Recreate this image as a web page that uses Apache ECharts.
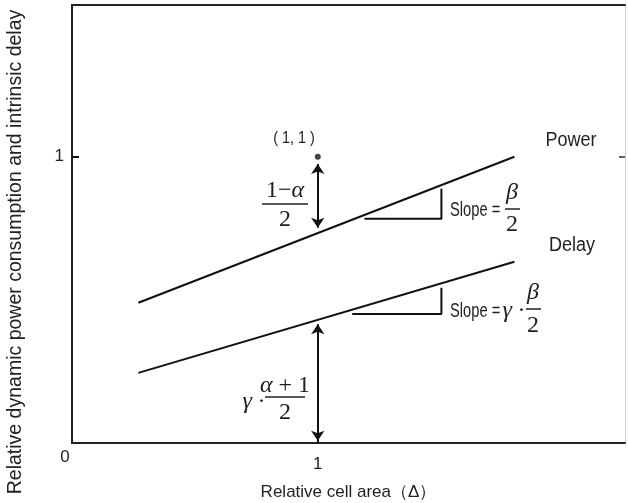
<!DOCTYPE html>
<html><head><meta charset="utf-8">
<script src="https://cdn.jsdelivr.net/npm/echarts@6/dist/echarts.min.js"></script>
<style>html,body{margin:0;padding:0;background:#fff}#c{width:628px;height:503px}</style>
</head><body><div id="c"></div>
<script>
// ---- data ----
const seriesNames = ['Power', 'Delay'];
const powerLine = [[0.27, 0.49], [1.8, 1.0]];
const delayLine = [[0.27, 0.245], [1.8, 0.633]];
const refPoint = [[1, 1]];
const powerGap = [[1, 0.975], [1, 0.752]];
const delayHeight = [[1, 0.415], [1, 0.008]];
const powerSlope = [[1.19, 0.783], [1.503, 0.783], [1.503, 0.888]];
const delaySlope = [[1.14, 0.451], [1.503, 0.451], [1.503, 0.542]];
const xTickLabels = {0: '{z|0}', 1: '1'};
const yTickLabels = {1: '1'};
const majorTicks = [1];
const xName = 'Relative cell area（Δ）';
const yName = 'Relative dynamic power consumption and intrinsic delay';

const chart = echarts.init(document.getElementById('c'), null, {renderer: 'canvas'});
const SANS = 'Liberation Sans, Arial, sans-serif';
const SERIF = 'Liberation Serif, Times New Roman, serif';
const INK = '#111';

const GRID = {left: 72, right: 3, top: 5, bottom: 60};
const plotH = 503 - GRID.top - GRID.bottom;

const baseX = {type: 'value', min: 0, max: 2.25, interval: 0.25};
const baseY = {type: 'value', min: 0, max: 1.53, interval: 0.25};

const option = {
  backgroundColor: '#fff',
  animation: false,
  grid: Object.assign({containLabel: false, outerBoundsMode: 'none'}, GRID),
  xAxis: [
    Object.assign({}, baseX, {
      position: 'bottom',
      axisLine: {onZero: false, lineStyle: {color: '#222', width: 2}},
      axisTick: {inside: true, length: 7, customValues: majorTicks, lineStyle: {color: '#111', width: 2}},
      splitLine: {show: true, lineStyle: {color: '#999', width: 1, type: [0, plotH - 4, 4, 2000]}},
      axisLabel: {
        color: '#222', fontFamily: SANS, fontSize: 17, margin: 13,
        formatter: v => xTickLabels[v] !== undefined ? xTickLabels[v] : '',
        rich: {z: {fontFamily: SANS, fontSize: 17, color: '#222', padding: [0, 14, 0, 0], lineHeight: 2}}
      },
      name: xName, nameLocation: 'middle', nameGap: 41,
      nameTextStyle: {fontFamily: SANS, fontSize: 17, color: '#222'}
    }),
    Object.assign({}, baseX, {
      position: 'top',
      axisLine: {onZero: false, lineStyle: {color: '#222', width: 2}},
      axisTick: {show: false}, axisLabel: {show: false}, splitLine: {show: false}
    })
  ],
  yAxis: [
    Object.assign({}, baseY, {
      position: 'left',
      axisLine: {onZero: false, lineStyle: {color: '#222', width: 2}},
      axisTick: {show: true, inside: true, length: 7, customValues: majorTicks, lineStyle: {color: '#111', width: 2}},
      splitLine: {show: true, lineStyle: {color: '#999', width: 1, type: [4, 2000]}},
      axisLabel: {
        color: '#222', fontFamily: SANS, fontSize: 17, margin: 8,
        formatter: v => yTickLabels[v] !== undefined ? yTickLabels[v] : ''
      },
      name: yName, nameLocation: 'middle', nameGap: 46, nameRotate: 90,
      nameTextStyle: {fontFamily: SANS, fontSize: 19.5, color: '#222', padding: [0, 56, 0, 0]}
    }),
    Object.assign({}, baseY, {
      position: 'right',
      axisLine: {onZero: false, lineStyle: {color: '#d0d0d0', width: 1}},
      axisTick: {inside: true, length: 6, customValues: majorTicks, lineStyle: {color: '#333', width: 1.5}},
      axisLabel: {show: false}, splitLine: {show: false}
    })
  ],
  series: [
    {name: seriesNames[0], type: 'line', data: powerLine, symbol: 'none',
     lineStyle: {color: INK, width: 2}, z: 5},
    {name: seriesNames[1], type: 'line', data: delayLine, symbol: 'none',
     lineStyle: {color: INK, width: 2}, z: 5},
    {name: 'slopeP', type: 'line', data: powerSlope, symbol: 'none',
     lineStyle: {color: INK, width: 2}},
    {name: 'slopeD', type: 'line', data: delaySlope, symbol: 'none',
     lineStyle: {color: INK, width: 2}},
    {name: 'point', type: 'scatter', data: refPoint, symbol: 'circle', symbolSize: 6,
     itemStyle: {color: INK}, z: 6},
    {name: 'arrows', type: 'lines', coordinateSystem: 'cartesian2d',
     symbol: ['arrow', 'arrow'], symbolSize: 10,
     lineStyle: {color: INK, width: 2, opacity: 1},
     itemStyle: {color: INK},
     data: [{coords: powerGap}, {coords: delayHeight}]}
  ]
};
chart.setOption(option);

// ---- text annotations ----
function txt(x, y, text, o) {
  return Object.assign({type: 'text', x: x, y: y, z: 20,
    style: Object.assign({text: text, fill: '#222', align: 'center', verticalAlign: 'middle',
      fontFamily: SANS, fontSize: 20}, o && o.style || {})}, o && o.el || {});
}
function bar(x1, x2, y) {
  return {type: 'line', z: 20, shape: {x1: x1, y1: y, x2: x2, y2: y}, style: {stroke: '#222', lineWidth: 1.5}};
}
const mathRich = {
  r: {fontFamily: SERIF, fontSize: 24, fill: '#222'},
  i: {fontFamily: SERIF, fontSize: 24, fontStyle: 'italic', fill: '#222'}
};
const narrow = s => ({scaleX: s, originX: 0, originY: 0});
const g = [];
g.push(txt(294, 139, '( 1, 1 )', {style: {fontSize: 16}, el: narrow(0.9)}));
// (1-alpha)/2
g.push(txt(285, 191, '{r|1−}{i|α}', {style: {rich: mathRich}}));
g.push(bar(262, 308, 204));
g.push(txt(285, 220, '{r|2}', {style: {rich: mathRich}}));
// Power / Delay
g.push(txt(571, 140, seriesNames[0], {style: {fontSize: 20}, el: narrow(0.9)}));
g.push(txt(572, 245, seriesNames[1], {style: {fontSize: 20}, el: narrow(0.9)}));
// Slope = beta/2
g.push(txt(450, 210, 'Slope =', {style: {fontSize: 21, align: 'left'}, el: narrow(0.7)}));
g.push(txt(512, 193, '{i|β}', {style: {rich: mathRich}}));
g.push(bar(505, 520, 209));
g.push(txt(512, 225, '{r|2}', {style: {rich: mathRich}}));
// Slope = gamma * beta/2
g.push(txt(450, 311, 'Slope =', {style: {fontSize: 21, align: 'left'}, el: narrow(0.7)}));
g.push(txt(514, 311, '{i|γ} {r|·}', {style: {rich: mathRich}}));
g.push(txt(533, 293, '{i|β}', {style: {rich: mathRich}}));
g.push(bar(526, 541, 309));
g.push(txt(533, 326, '{r|2}', {style: {rich: mathRich}}));
// gamma * (alpha+1)/2
g.push(txt(254, 402, '{i|γ} {r|·}', {style: {rich: mathRich}}));
g.push(txt(285, 386, '{i|α}{r| + 1}', {style: {rich: mathRich}}));
g.push(bar(265, 305, 397));
g.push(txt(285, 413, '{r|2}', {style: {rich: mathRich}}));
chart.setOption({graphic: g});
</script>
</body></html>
